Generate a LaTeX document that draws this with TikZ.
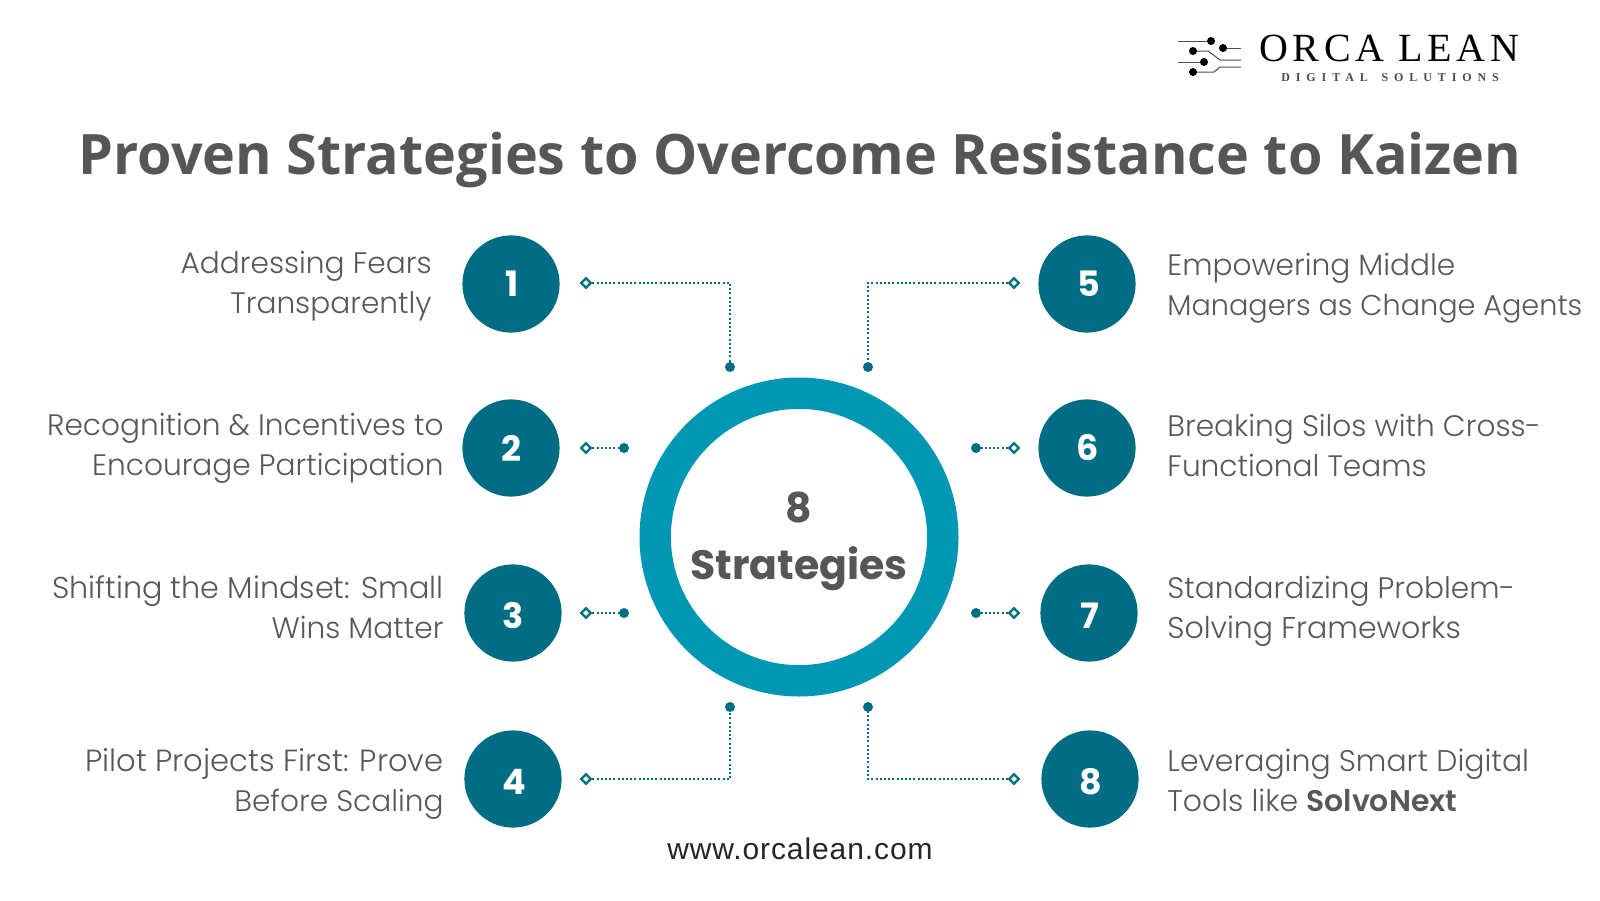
\documentclass[tikz,border=0pt]{standalone}
\usepackage{fontspec}
\setmainfont{Poppins Light}[BoldFont={Poppins SemiBold}]
\newfontfamily\opensans{Open Sans}
\newfontfamily\popbold{Poppins Bold}
\newfontfamily\logoserif[LetterSpace=11.5]{Liberation Serif}
\newfontfamily\logosub[LetterSpace=49]{Liberation Serif}
\newfontfamily\webfont[LetterSpace=3]{Liberation Sans}
\definecolor{teal1}{HTML}{006D84}
\definecolor{ringc}{HTML}{0097B5}
\definecolor{greytxt}{HTML}{565656}
\definecolor{bodytxt}{HTML}{585858}
\usetikzlibrary{shapes.geometric}
\tikzset{
 x=0.5pt,y=-0.5pt,
 numdisc/.style={circle,fill=teal1,minimum size=48.6pt,inner sep=0pt},
 numtext/.style={inner sep=0pt,text=white,font=\popbold\fontsize{17.5}{20}\selectfont},
 ltext/.style={anchor=east,align=right,inner sep=0pt,text=bodytxt,font=\fontsize{14.8}{20}\selectfont},
 rtext/.style={anchor=west,align=left,inner sep=0pt,text=bodytxt,font=\fontsize{14.8}{20}\selectfont},
 enddot/.style={circle,fill=teal1,minimum size=5pt,inner sep=0pt},
 enddiam/.style={diamond,draw=teal1,fill=white,line width=1.1pt,minimum size=5.2pt,inner sep=0pt},
 link/.style={draw=teal1,line width=1pt,dash pattern=on 1pt off 1.1pt},
 logoline/.style={draw=black!70,line width=0.5pt},
 logodot/.style={circle,fill=black,minimum size=4pt,inner sep=0pt},
}
\begin{document}
\begin{tikzpicture}
\useasboundingbox (0,0) rectangle (1600,900);
\fill[white] (0,0) rectangle (1600,900);
% title
\node[inner sep=0pt,text=greytxt,font=\opensans\fontsize{27.85}{36}\selectfont\bfseries] (title) at (800,160) {Proven Strategies to Overcome Resistance to Kaizen};
% centre ring
\node[circle,draw=ringc,line width=15.7pt,minimum size=143.8pt,inner sep=0pt] (ring) at (799,537) {};
\node[inner sep=0pt,text=greytxt,font=\popbold\fontsize{20.5}{20}\selectfont] (eight) at (799,508) {8};
\node[inner sep=0pt,text=greytxt,font=\popbold\fontsize{20.5}{20}\selectfont] (strat) at (799,569) {Strategies};
% discs
\node[numdisc] (n1) at (511,284) {};
\node[numdisc] (n2) at (511,448) {};
\node[numdisc] (n3) at (513,613) {};
\node[numdisc] (n4) at (513,779) {};
\node[numdisc] (n5) at (1087,284) {};
\node[numdisc] (n6) at (1087,448) {};
\node[numdisc] (n7) at (1089,613) {};
\node[numdisc] (n8) at (1090,779) {};
\node[numtext] (d1) at (512,284) {1};
\node[numtext] (d2) at (511,448) {2};
\node[numtext] (d3) at (513,616) {3};
\node[numtext] (d4) at (514,782) {4};
\node[numtext] (d5) at (1089,284) {5};
\node[numtext] (d6) at (1088,448) {6};
\node[numtext] (d7) at (1090,616) {7};
\node[numtext] (d8) at (1091,782) {8};
% texts
\node[ltext] (t1) at (432,286) {Addressing Fears\\Transparently};
\node[ltext] (t2) at (444,448) {Recognition \& Incentives to\\Encourage Participation};
\node[ltext] (t3) at (444,607) {{\fontsize{15.1}{20}\selectfont Shifting the Mindset: Small}\\Wins Matter};
\node[ltext] (t4) at (444,784) {{\fontsize{15.3}{20}\selectfont Pilot Projects First: Prove}\\Before Scaling};
\node[rtext] (t5) at (1167,288) {Empowering Middle\\{\fontsize{14.35}{20}\selectfont Managers as Change Agents}};
\node[rtext] (t6) at (1167,445) {Breaking Silos with Cross-\\Functional Teams};
\node[rtext] (t7) at (1167,611) {Standardizing Problem-\\{\fontsize{15}{20}\selectfont Solving Frameworks}};
\node[rtext] (t8) at (1167,780) {{\fontsize{14.95}{20}\selectfont Leveraging Smart Digital}\\{\fontsize{14.95}{20}\selectfont Tools like \textbf{SolvoNext}}};
% connector ends
\node[enddiam] (a1) at (586,283) {};
\node[enddot] (b1) at (730,367) {};
\node[enddiam] (a2) at (586,448) {};
\node[enddot] (b2) at (624,448) {};
\node[enddiam] (a3) at (586,613) {};
\node[enddot] (b3) at (624,613) {};
\node[enddiam] (a4) at (586,779) {};
\node[enddot] (b4) at (730,707) {};
\node[enddiam] (a5) at (1014,283) {};
\node[enddot] (b5) at (868,367) {};
\node[enddiam] (a6) at (1014,448) {};
\node[enddot] (b6) at (976,448) {};
\node[enddiam] (a7) at (1014,613) {};
\node[enddot] (b7) at (976,613) {};
\node[enddiam] (a8) at (1014,779) {};
\node[enddot] (b8) at (868,707) {};
\draw[link] (a1) -| (b1);
\draw[link] (a2) -- (b2);
\draw[link] (a3) -- (b3);
\draw[link] (a4) -| (b4);
\draw[link] (a5) -| (b5);
\draw[link] (a6) -- (b6);
\draw[link] (a7) -- (b7);
\draw[link] (a8) -| (b8);
% footer
\node[inner sep=0pt,text=black!85,font=\webfont\fontsize{15}{16}\selectfont] (web) at (800,849) {www.orcalean.com};
% logo
\node[inner sep=0pt,anchor=west,text=black,font=\logoserif\fontsize{20}{22}\selectfont] (logoa) at (1259,48) {ORCA LEAN};
\node[inner sep=0pt,anchor=west,text=black!70,font=\logosub\fontsize{6}{8}\selectfont\bfseries] (logob) at (1281,78) {DIGITAL\hspace{2.5pt} SOLUTIONS};
\draw[logoline] (1178,41) -- (1211,41);
\draw[logoline] (1223,48) -- (1241,48);
\draw[logoline] (1193,51) -- (1208,51) -- (1220,60) -- (1241,60);
\draw[logoline] (1178,62) -- (1204,62);
\draw[logoline] (1193,72) -- (1214,72) -- (1220,67) -- (1241,67);
\node[logodot] at (1211,41) {};
\node[logodot] at (1223,48) {};
\node[logodot] at (1193,51) {};
\node[logodot] at (1204,62) {};
\node[logodot] at (1193,72) {};
\end{tikzpicture}
\end{document}
